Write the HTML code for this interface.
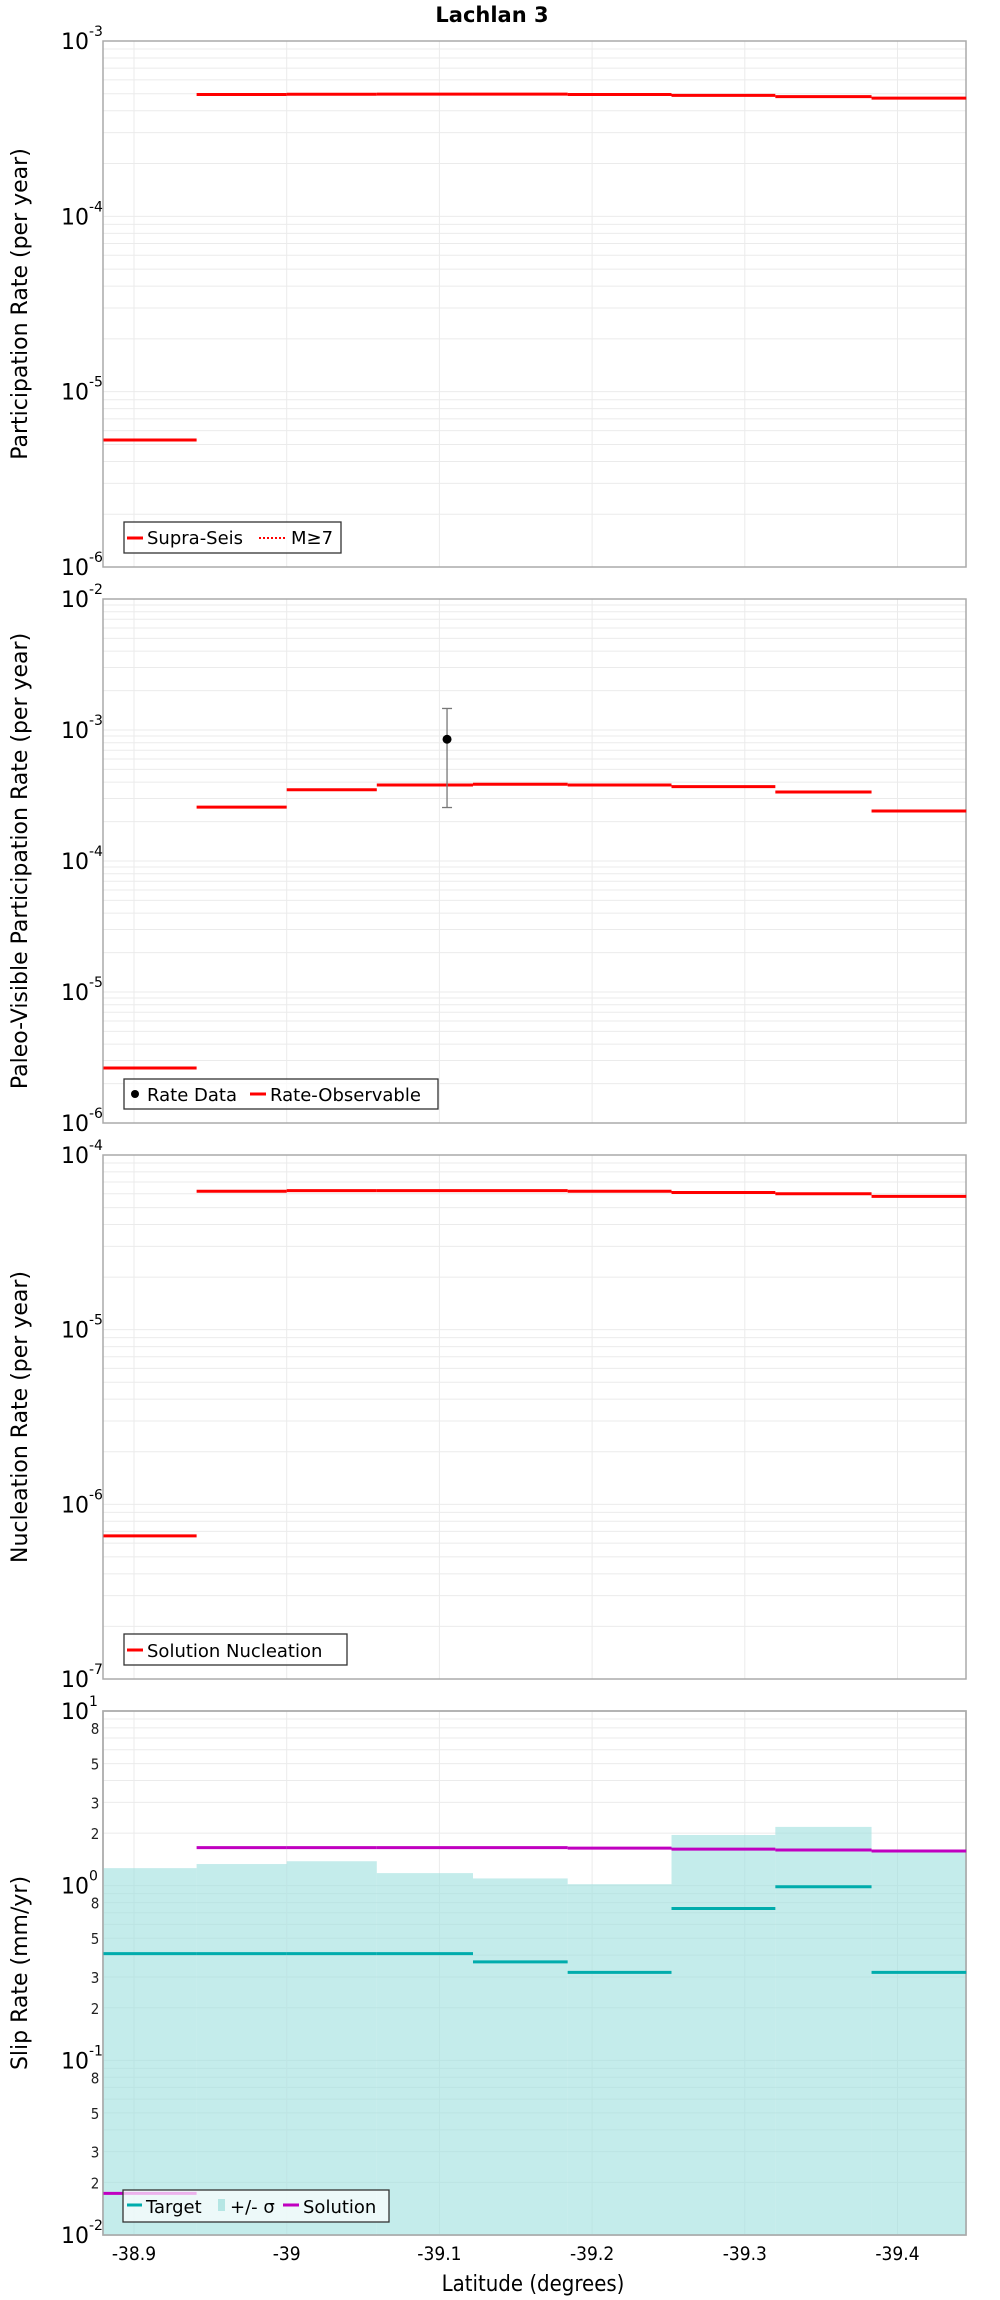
<!DOCTYPE html>
<html><head><meta charset="utf-8"><title>Lachlan 3</title>
<style>
html,body{margin:0;padding:0;background:#fff;}
svg{display:block;font-family:"DejaVu Sans","Liberation Sans",sans-serif;}
.tk{font-size:22px;fill:#000;}
.sup{font-size:14px;fill:#000;}
.mn{font-size:15px;fill:#222;font-family:"DejaVu Sans Condensed","DejaVu Sans",sans-serif;}
.xt{font-size:19px;fill:#000;font-family:"DejaVu Sans Condensed","DejaVu Sans",sans-serif;}
.at{font-size:22px;fill:#000;}
.lg{font-size:18px;fill:#000;}
</style></head>
<body>
<svg id="fig" width="1000" height="2300" viewBox="0 0 1000 2300" xmlns="http://www.w3.org/2000/svg">
<rect width="1000" height="2300" fill="#fff"/>
<text x="492" y="22" text-anchor="middle" font-weight="bold" font-size="21">Lachlan 3</text>
<g id="root"></g>
<text class="at" x="533" y="2291" text-anchor="middle" style="font-family:'DejaVu Sans Condensed','DejaVu Sans',sans-serif">Latitude (degrees)</text>
</svg>
<script>
// shared data
const binEdges = [-38.880, -38.941, -39.0, -39.059, -39.122, -39.184, -39.252, -39.320, -39.383, -39.445];
const xTicks = [-38.9, -39, -39.1, -39.2, -39.3, -39.4];
const xTickLabels = ["-38.9", "-39", "-39.1", "-39.2", "-39.3", "-39.4"];
// panel 1
const supraSeis = [5.3e-6, 4.95e-4, 4.97e-4, 4.98e-4, 4.98e-4, 4.95e-4, 4.9e-4, 4.82e-4, 4.72e-4];
// panel 2
const rateObservable = [2.63e-6, 2.58e-4, 3.5e-4, 3.8e-4, 3.85e-4, 3.8e-4, 3.7e-4, 3.36e-4, 2.41e-4];
const rateDataLat = [-39.105];
const rateDataVal = [8.5e-4];
const rateDataLo = [2.56e-4];
const rateDataHi = [1.46e-3];
// panel 3
const nucleation = [6.6e-7, 6.2e-5, 6.25e-5, 6.25e-5, 6.25e-5, 6.2e-5, 6.1e-5, 6.0e-5, 5.8e-5];
// panel 4
const slipTarget = [0.408, 0.408, 0.408, 0.408, 0.366, 0.319, 0.74, 0.986, 0.319];
const slipUpper = [1.26, 1.33, 1.38, 1.18, 1.10, 1.02, 1.95, 2.17, 1.55];
const slipLower = [0.005, 0.005, 0.005, 0.005, 0.005, 0.005, 0.005, 0.005, 0.005];
const slipSolution = [0.0173, 1.65, 1.65, 1.65, 1.65, 1.64, 1.62, 1.60, 1.58];

const NS = "http://www.w3.org/2000/svg";
const root = document.getElementById('root');
const L = 103, R = 966;
function xs(lat){ return 134 + (-38.9 - lat) * 1527; }
function mk(tag, attrs, parent){
  const e = document.createElementNS(NS, tag);
  for (const k in attrs) e.setAttribute(k, attrs[k]);
  (parent || root).appendChild(e);
  return e;
}
function yScale(top, bot, lmin, lmax){
  return v => { const lv = Math.log10(v); const c = Math.max(lmin, Math.min(lmax, lv)); return bot - (c - lmin) / (lmax - lmin) * (bot - top); };
}
function panel(name, top, bot, lmin, lmax, title, minorLabels){
  const g = mk('g', {});
  
  
  const y = yScale(top, bot, lmin, lmax);
  // grid
  const grid = mk('g', {stroke:'#ebebeb', 'stroke-width':1}, g);
  
  
  for (let d = lmin; d < lmax; d++){
    for (let m = 1; m <= 9; m++){
      const yy = y(m * Math.pow(10, d));
      mk('line', {x1:L, x2:R, y1:yy, y2:yy}, grid);
    }
  }
  xTicks.forEach(t => { const xx = xs(t); mk('line', {x1:xx, x2:xx, y1:top, y2:bot}, grid); });
  // frame
  const fr = mk('rect', {x:L, y:top, width:R-L, height:bot-top, fill:'none', stroke:'#aaa', 'stroke-width':1.5}, g);
  
  
  // y tick labels
  const yl = mk('g', {}, g);
  
  
  for (let d = lmin; d <= lmax; d++){
    const yy = y(Math.pow(10, d));
    const t = mk('text', {x:89, y:yy+8, 'text-anchor':'end', class:'tk'}, yl);
    t.textContent = '10';
    const s = mk('text', {x:89, y:yy-5, class:'sup'}, yl);
    s.textContent = String(d);
    if (minorLabels && d < lmax){
      [2,3,5,8].forEach(m => {
        const ym = y(m * Math.pow(10, d));
        const mt = mk('text', {x:95, y:ym+6, 'text-anchor':'middle', class:'mn'}, yl);
        mt.textContent = String(m);
      });
    }
  }
  const cy = (top + bot) / 2;
  const at = mk('text', {x:0, y:0, class:'at', 'text-anchor':'middle', transform:'translate(27,' + cy + ') rotate(-90)'}, g);
  
  
  at.textContent = title;
  return {g, y};
}
function steps(p, vals, color, w, name, extra){
  const gg = mk('g', {}, p.g);
  
  
  vals.forEach((v, i) => {
    const yy = p.y(v);
    const a = Object.assign({x1:xs(binEdges[i]), x2:xs(binEdges[i+1]), y1:yy, y2:yy, stroke:color, 'stroke-width':w}, extra||{});
    const l = mk('line', a, gg);
    
    
  });
}
function legend(p, x, y, w, h, name){
  const lg = mk('g', {}, p.g);
  
  
  mk('rect', {x:x, y:y, width:w, height:h, fill:'#fff', 'fill-opacity':0.7, stroke:'#333', 'stroke-width':1.3}, lg);
  return lg;
}
function ltext(lg, x, y, s){ const t = mk('text', {x:x, y:y, class:'lg'}, lg); t.textContent = s; return t; }

// Panel 1
const p1 = panel('participation-panel', 41, 567, -6, -3, 'Participation Rate (per year)');
steps(p1, supraSeis, '#ff0000', 3, 'supra-seis-line');
{ const lg = legend(p1, 124, 522, 217, 31, 'participation-legend');
  mk('line', {x1:127, x2:143, y1:538, y2:538, stroke:'#f00', 'stroke-width':3}, lg);
  ltext(lg, 147, 544, 'Supra-Seis');
  mk('line', {x1:259, x2:286, y1:538, y2:538, stroke:'#f00', 'stroke-width':2, 'stroke-dasharray':'2,2'}, lg);
  ltext(lg, 291, 544, 'M≥7'); }

// Panel 2
const p2 = panel('paleo-panel', 599, 1123, -6, -2, 'Paleo-Visible Participation Rate (per year)');
steps(p2, rateObservable, '#ff0000', 3, 'rate-observable-line');
{ const gg = mk('g', {}, p2.g);
  
  
  rateDataVal.forEach((v, i) => {
    const xx = xs(rateDataLat[i]);
    mk('line', {x1:xx, x2:xx, y1:p2.y(rateDataHi[i]), y2:p2.y(rateDataLo[i]), stroke:'#777', 'stroke-width':1.3}, gg);
    mk('line', {x1:xx-5, x2:xx+5, y1:p2.y(rateDataHi[i]), y2:p2.y(rateDataHi[i]), stroke:'#777', 'stroke-width':1.3}, gg);
    mk('line', {x1:xx-5, x2:xx+5, y1:p2.y(rateDataLo[i]), y2:p2.y(rateDataLo[i]), stroke:'#777', 'stroke-width':1.3}, gg);
    const c = mk('circle', {cx:xx, cy:p2.y(v), r:4.5, fill:'#000'}, gg);
    
    
  });
  const lg = legend(p2, 124, 1079, 314, 30, 'paleo-legend');
  mk('circle', {cx:135, cy:1094, r:4, fill:'#000'}, lg);
  ltext(lg, 147, 1101, 'Rate Data');
  mk('line', {x1:250, x2:266, y1:1094, y2:1094, stroke:'#f00', 'stroke-width':3}, lg);
  ltext(lg, 270, 1101, 'Rate-Observable'); }

// Panel 3
const p3 = panel('nucleation-panel', 1155, 1679, -7, -4, 'Nucleation Rate (per year)');
steps(p3, nucleation, '#ff0000', 3, 'solution-nucleation-line');
{ const lg = legend(p3, 124, 1634, 223, 31, 'nucleation-legend');
  mk('line', {x1:127, x2:143, y1:1650, y2:1650, stroke:'#f00', 'stroke-width':3}, lg);
  ltext(lg, 147, 1657, 'Solution Nucleation'); }

// Panel 4
const p4 = panel('slip-rate-panel', 1711, 2235, -2, 1, 'Slip Rate (mm/yr)', true);
{ const gg = mk('g', {}, p4.g);
  
  
  slipUpper.forEach((v, i) => {
    const x1 = xs(binEdges[i]), x2 = xs(binEdges[i+1]);
    const y1 = p4.y(v), y2 = p4.y(slipLower[i]);
    const r = mk('rect', {x:x1, y:y1, width:x2-x1, height:y2-y1, fill:'#9fe0de', 'fill-opacity':0.62}, gg);
    
    
  });
  // redraw frame on top
  mk('rect', {x:L, y:1711, width:R-L, height:524, fill:'none', stroke:'#aaa', 'stroke-width':1.5}, p4.g);
}
steps(p4, slipTarget, '#00acac', 3, 'target-line');
steps(p4, slipSolution, '#c000c0', 3, 'solution-line');
{ const lg = legend(p4, 123, 2190, 266, 32, 'slip-legend');
  mk('line', {x1:127, x2:142, y1:2205, y2:2205, stroke:'#00acac', 'stroke-width':3}, lg);
  ltext(lg, 146, 2213, 'Target');
  mk('rect', {x:218, y:2199, width:7, height:12, fill:'#b5e6e4'}, lg);
  ltext(lg, 230, 2213, '+/- σ');
  mk('line', {x1:283, x2:299, y1:2205, y2:2205, stroke:'#c000c0', 'stroke-width':3}, lg);
  ltext(lg, 303, 2213, 'Solution'); }
// x tick labels
{ const xl = mk('g', {});
  
  
  xTicks.forEach((t, i) => {
    const tx = mk('text', {x:xs(t), y:2260, 'text-anchor':'middle', class:'xt'}, xl);
    tx.textContent = xTickLabels[i];
  });
}
</script>
</body></html>
